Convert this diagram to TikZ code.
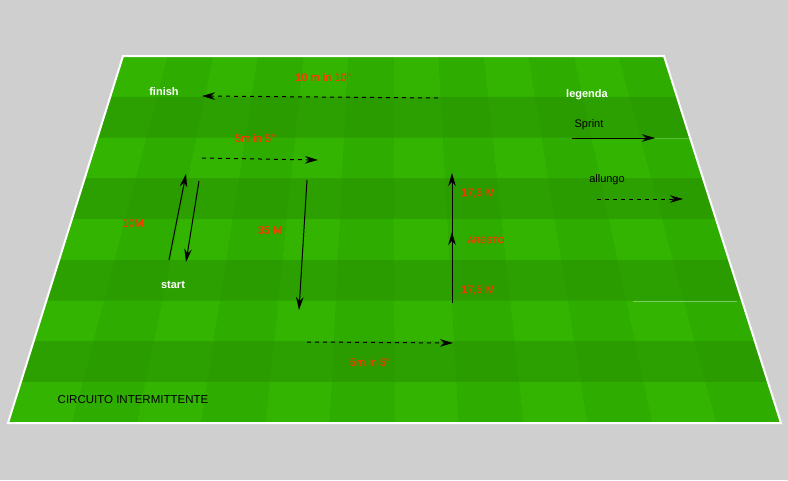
\documentclass[tikz,border=0pt]{standalone}
\usepackage{fontspec}
\setmainfont{Liberation Sans}
\newfontfamily\distfont{Liberation Sans}[FakeBold=0.35]
\usetikzlibrary{arrows.meta, positioning}
\definecolor{backdrop}{RGB}{207,207,207}
\definecolor{turf00}{RGB}{44,160,0}
\definecolor{turf01}{RGB}{43,156,0}
\definecolor{turf10}{RGB}{50,180,0}
\definecolor{turf11}{RGB}{47,172,0}
\definecolor{distred}{RGB}{245,58,0}

\begin{document}
\begin{tikzpicture}[x=1pt, y=-1pt,
  tag/.style={font=\fontsize{11}{13}\selectfont\bfseries, text=white, inner sep=0pt},
  dist/.style={font=\distfont\fontsize{11}{13}\selectfont, text=distred, inner sep=0pt},
  legtext/.style={font=\fontsize{11}{13}\selectfont, text=black, inner sep=0pt},
  sprint/.style={-{Stealth[length=13pt, width=7.5pt]}, line width=1pt, black},
  jog/.style={sprint, dash pattern=on 4pt off 4pt}
]
\fill[backdrop] (0,0) rectangle (788,480);
\fill[turf01] (123,56) -- (664,56) -- (781,423) -- (8,423) -- cycle;

\foreach \i in {0,...,8} {
  \foreach \j in {0,...,11} {
    \pgfmathsetmacro\ya{56+367*\i/9}
    \pgfmathsetmacro\yb{56+367*(\i+1)/9}
    \pgfmathsetmacro\la{123-115*\i/9}
    \pgfmathsetmacro\ra{664+117*\i/9}
    \pgfmathsetmacro\lb{123-115*(\i+1)/9}
    \pgfmathsetmacro\rb{664+117*(\i+1)/9}
    \pgfmathtruncatemacro\rp{mod(\i+1,2)}
    \pgfmathtruncatemacro\cp{mod(\j,2)}
    \fill[turf\rp\cp]
      ({\la+(\ra-\la)*\j/12},\ya) -- ({\la+(\ra-\la)*(\j+1)/12},\ya)
      -- ({\lb+(\rb-\lb)*(\j+1)/12},\yb) -- ({\lb+(\rb-\lb)*\j/12},\yb) -- cycle;
  }
}
\draw[white, line width=2pt, line join=miter] (123,56) -- (664,56) -- (781,423) -- (8,423) -- cycle;
\draw[white, opacity=0.35, line width=0.6pt] (633,301) -- (737,301);
\draw[white, opacity=0.2, line width=0.6pt] (655,138) -- (693,138);

\node[tag] (finish) at (164,92) {finish};
\node[tag] (legenda) at (587,95) {legenda};
\node[tag] (start) at (173,285) {start};

\node[dist] (d10) at (323,77) {10 m in 10"};
\node[dist] (d5top) at (255,138) {5m in 5"};
\node[dist] (d10m) at (133,223) {10M};
\node[dist] (d35) at (270,230) {35 M};
\node[dist] (d17up) at (478,193) {17,5 M};
\node[dist, font=\distfont\fontsize{9}{11}\selectfont] (aresto) at (486,240) {ARESTO};
\node[dist] (d17low) at (478,290) {17,5 M};
\node[dist] (d5bot) at (370,362) {5m in 5"};

\node[legtext] (sprinttxt) at (589,125) {Sprint};
\node[legtext] (allungotxt) at (607,180) {allungo};
\node[legtext, font=\fontsize{11.5}{13}\selectfont] (title) at (133,400) {CIRCUITO INTERMITTENTE};

\coordinate (r1a) at (438,98);
\coordinate (r1b) at (202,96);
\coordinate (r2a) at (202,158);
\coordinate (r2b) at (318,160);
\coordinate (up10a) at (169,260);
\coordinate (up10b) at (186,174);
\coordinate (dn10a) at (199,181);
\coordinate (dn10b) at (186,262);
\coordinate (dn35a) at (307,180);
\coordinate (dn35b) at (299,310);
\coordinate (r3a) at (307,342);
\coordinate (r3b) at (453,343);
\coordinate (up17a) at (452,303);
\coordinate (stop) at (452,232);
\coordinate (up17b) at (452,240);
\coordinate (up17c) at (452,173);
\coordinate (legsa) at (572,138);
\coordinate (legsb) at (655,138);
\coordinate (legaa) at (597,199);
\coordinate (legab) at (683,199);

\draw[jog] (r1a) -- (r1b);
\draw[jog] (r2a) -- (r2b);
\draw[sprint] (up10a) -- (up10b);
\draw[sprint] (dn10a) -- (dn10b);
\draw[sprint] (dn35a) -- (dn35b);
\draw[jog] (r3a) -- (r3b);
\draw[sprint] (up17a) -- (stop);
\draw[sprint] (up17b) -- (up17c);
\draw[sprint] (legsa) -- (legsb);
\draw[jog] (legaa) -- (legab);
\end{tikzpicture}
\end{document}
